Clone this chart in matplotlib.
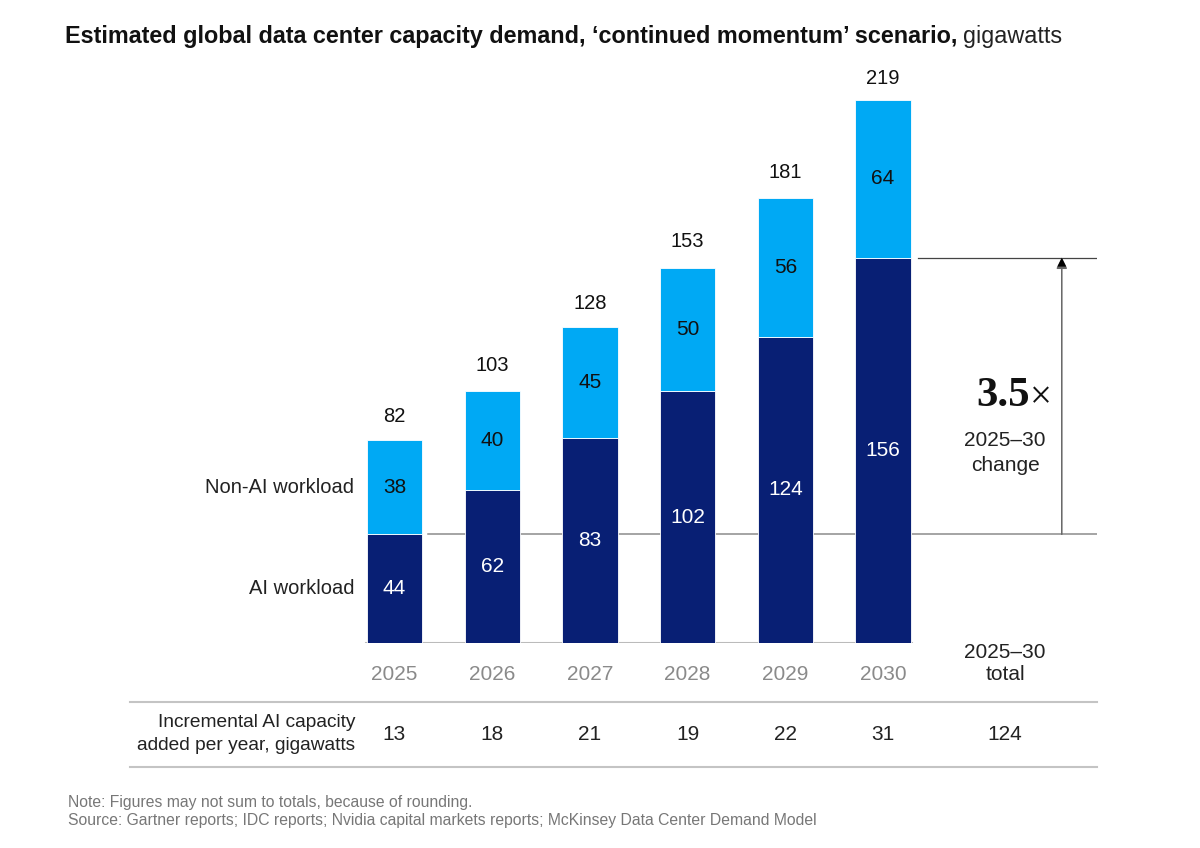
import numpy as np
import matplotlib.pyplot as plt
from matplotlib.lines import Line2D
from matplotlib.transforms import blended_transform_factory

# chart values
years = ["2025", "2026", "2027", "2028", "2029", "2030"]
ai_workload = [44, 62, 83, 102, 124, 156]
non_ai_workload = [38, 40, 45, 50, 56, 64]
totals = [82, 103, 128, 153, 181, 219]
incremental_ai = [13, 18, 21, 19, 22, 31]
incremental_total = 124
growth_label = "3.5"

navy = "#081f74"
sky = "#00a9f4"
grey_line = "#8c8c8c"

sans = ["Liberation Sans", "DejaVu Sans"]
serif = ["Liberation Serif", "DejaVu Serif"]

fig = plt.figure(figsize=(12, 8.48), dpi=100)
W, H = 1200, 848


def fy(px):
    """figure fraction from a pixel row counted from the top"""
    return (H - px) / H


def fit_width(txt, target_px):
    """shrink/grow a text so it spans target_px pixels"""
    fig.canvas.draw()
    w = txt.get_window_extent().width
    txt.set_fontsize(txt.get_fontsize() * target_px / w)


# axes placed so that x index spacing ~97.7 px and 1 GW ~2.47 px
x0_px, spacing = 394.5, 97.7
left_px, right_px = 130, 1097
base_px, top_px = 643, 80
ax = fig.add_axes([left_px / W, (H - base_px) / H,
                   (right_px - left_px) / W, (base_px - top_px) / H])
ax.set_xlim((left_px - x0_px) / spacing, (right_px - x0_px) / spacing)
ax.set_ylim(0, (base_px - top_px) / 2.47)
ax.axis("off")
tr = blended_transform_factory(ax.transData, fig.transFigure)

x = np.arange(len(years))
bw = 0.565
total_x = 6.25
arrow_x = 6.83

# reference lines (behind bars)
ax.plot([0.34, ax.get_xlim()[1]], [ai_workload[0]] * 2, color=grey_line, lw=1.1, zorder=1)
ax.plot([5.36, ax.get_xlim()[1]], [ai_workload[-1]] * 2, color="#444444", lw=0.9, zorder=1)
ax.plot([-bw / 2 - 0.01, 5 + bw / 2 + 0.01], [0, 0], color="#bbbbbb", lw=1.5, zorder=1)

ax.bar(x, ai_workload, width=bw, color=navy, edgecolor="white", linewidth=0.6, zorder=2)
ax.bar(x, non_ai_workload, width=bw, bottom=ai_workload, color=sky,
       edgecolor="white", linewidth=0.6, zorder=2)

for i in x:
    ax.text(i, ai_workload[i] / 2, str(ai_workload[i]), ha="center", va="center",
            color="white", fontsize=15, family=sans, zorder=3)
    ax.text(i, ai_workload[i] + non_ai_workload[i] / 2, str(non_ai_workload[i]),
            ha="center", va="center", color="#111111", fontsize=15, family=sans, zorder=3)
    ax.text(i, totals[i] + 9.5, str(totals[i]), ha="center", va="center",
            color="#111111", fontsize=14.5, family=sans)

# series labels
ax.text(-0.41, ai_workload[0] + non_ai_workload[0] / 2, "Non-AI workload", ha="right",
        va="center", fontsize=14.5, family=sans, color="#222222")
ax.text(-0.41, ai_workload[0] / 2, "AI workload", ha="right", va="center",
        fontsize=14.5, family=sans, color="#222222")

# growth arrow
ax.annotate("", xy=(arrow_x, ai_workload[-1]), xytext=(arrow_x, ai_workload[0]),
            arrowprops=dict(arrowstyle="-|>", color="#666666", lw=1.1,
                            mutation_scale=16, shrinkA=0, shrinkB=0))
ax.annotate("", xy=(arrow_x, ai_workload[-1]), xytext=(arrow_x, ai_workload[-1] - 4),
            arrowprops=dict(arrowstyle="-|>", color="black", lw=0,
                            mutation_scale=16, shrinkA=0, shrinkB=0))
ax.text(6.50, 100, growth_label, ha="right", va="center", fontsize=31,
        fontweight="bold", family=serif, color="#111111")
ax.text(6.50, 99, "\u00d7", ha="left", va="center", fontsize=28,
        family=serif, color="#111111")
ax.text(total_x, 82, "2025\u201330", ha="center", va="center", fontsize=15,
        family=sans, color="#222222")
ax.text(total_x, 72, "change", ha="center", va="center", fontsize=15,
        family=sans, color="#222222")

# year labels and total header
for i in x:
    ax.text(i, fy(675), years[i], transform=tr, ha="center", va="center",
            fontsize=15, family=sans, color="#8a8a8a")
ax.text(total_x, fy(652), "2025\u201330", transform=tr, ha="center", va="center",
        fontsize=15, family=sans, color="#222222")
ax.text(total_x, fy(675), "total", transform=tr, ha="center", va="center",
        fontsize=15, family=sans, color="#222222")

# table rows
for ypx in (702, 767):
    fig.add_artist(Line2D([left_px / W, right_px / W], [fy(ypx)] * 2,
                          color="#c4c4c4", lw=1.5))
row_lab = fig.text(355 / W, fy(734), "Incremental AI capacity\nadded per year, gigawatts",
                   ha="right", va="center", fontsize=14, family=sans, color="#222222",
                   linespacing=1.45)
fit_width(row_lab, 222)
for i in x:
    ax.text(i, fy(734), str(incremental_ai[i]), transform=tr, ha="center",
            va="center", fontsize=15, family=sans, color="#222222")
ax.text(total_x, fy(734), str(incremental_total), transform=tr, ha="center",
        va="center", fontsize=15, family=sans, color="#222222")

# title
t1 = fig.text(65 / W, fy(37), "Estimated global data center capacity demand, "
              "\u2018continued momentum\u2019 scenario,", ha="left", va="center",
              fontsize=17, fontweight="bold", family=sans, color="#111111")
fit_width(t1, 893)
fig.canvas.draw()
bb = t1.get_window_extent()
t2 = fig.text((bb.x1 + 6) / W, fy(37), "gigawatts", ha="left", va="center",
              fontsize=t1.get_fontsize(), family=sans, color="#222222")

# notes
fig.text(68 / W, fy(802), "Note: Figures may not sum to totals, because of rounding.",
         ha="left", va="center", fontsize=11, family=sans, color="#777777")
src = fig.text(68 / W, fy(820), "Source: Gartner reports; IDC reports; Nvidia capital "
               "markets reports; McKinsey Data Center Demand Model", ha="left",
               va="center", fontsize=11, family=sans, color="#777777")
fit_width(src, 744)
fig.texts[-2].set_fontsize(src.get_fontsize())

fig.savefig("out.png", dpi=100, facecolor="white")
